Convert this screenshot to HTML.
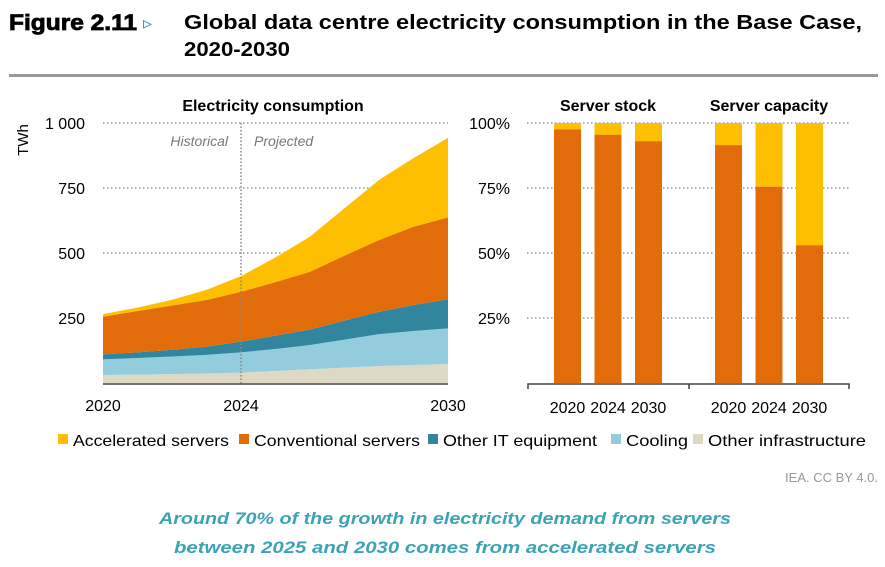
<!DOCTYPE html>
<html><head><meta charset="utf-8"><style>
body{margin:0;background:#fff;width:885px;height:562px;overflow:hidden;font-family:"Liberation Sans",sans-serif}
</style></head><body>
<svg width="885" height="562" viewBox="0 0 885 562" xmlns="http://www.w3.org/2000/svg">
<text x="9" y="30" font-size="22" font-weight="bold" fill="#000" textLength="128" lengthAdjust="spacingAndGlyphs" font-family="Liberation Sans" stroke="#000" stroke-width="0.8">Figure 2.11</text>
<text x="143" y="29" font-size="18" fill="#2a9ab0">▹</text>
<text x="184" y="29" font-size="20" font-weight="bold" fill="#000" textLength="678" lengthAdjust="spacingAndGlyphs">Global data centre electricity consumption in the Base Case,</text>
<text x="184" y="56" font-size="20" font-weight="bold" fill="#000" textLength="106" lengthAdjust="spacingAndGlyphs">2020-2030</text>
<rect x="9" y="74" width="869" height="3" fill="#999"/>
<g id="area"></g>
<g id="bars"></g>
<g id="legend"></g>
<text x="878" y="482" font-size="13" fill="#999" text-anchor="end">IEA. CC BY 4.0.</text>
<text x="445" y="524" font-size="17" font-weight="bold" font-style="italic" fill="#3aa3b6" text-anchor="middle" textLength="572" lengthAdjust="spacingAndGlyphs">Around 70% of the growth in electricity demand from servers</text>
<text x="445" y="553" font-size="17" font-weight="bold" font-style="italic" fill="#3aa3b6" text-anchor="middle" textLength="542" lengthAdjust="spacingAndGlyphs">between 2025 and 2030 comes from accelerated servers</text>
</svg>
<script>
const years=[2020,2021,2022,2023,2024,2025,2026,2027,2028,2029,2030];
const infra=[31,32,34,37,40,46,53,59,65,69,73];
const cooling=[60,64,68,71,78,85,93,108,123,131,137];
const otherIT=[19,22,26,32,41,51,60,73,86,100,112];
const conventional=[145,159,170,179,192,206,222,250,276,301,315];
const accelerated=[10,13,22,39,60,95,135,182,231,264,306];
const yTicks=[250,500,750,1000];
const yTickLabels=["250","500","750","1 000"];
const xTickYears=[2020,2024,2030];
const barGroups=["Server stock","Server capacity"];
const barYears=["2020","2024","2030"];
const stockConv=[97.5,95.5,93];
const capConv=[91.5,75.5,53];
const pctTicks=[25,50,75,100];

const NS="http://www.w3.org/2000/svg";
function mk(p,t,a,txt){const e=document.createElementNS(NS,t);for(const k in a)e.setAttribute(k,a[k]);if(txt!=null)e.textContent=txt;p.appendChild(e);return e;}
const C={acc:"#fdbf00",conv:"#e36c0a",it:"#31859c",cool:"#93cddd",infra:"#ddd9c4"};

const A=document.getElementById('area');
const ax=y=>103+(y-2020)*(448-103)/10;
const ay=v=>383-v*0.26;
let t=mk(A,'text',{x:273,y:111,'font-size':16,'font-weight':'bold','text-anchor':'middle'},'Electricity consumption');

t=mk(A,'text',{x:0,y:0,'font-size':15,transform:'translate(28,140) rotate(-90)','text-anchor':'middle'},'TWh');

yTicks.forEach((v,i)=>{
 const g=mk(A,'line',{x1:103,x2:448,y1:ay(v),y2:ay(v),stroke:'#999','stroke-width':1.5,'stroke-dasharray':'1.5 2.5'});
 
 const l=mk(A,'text',{x:85,y:ay(v)+6,'font-size':16,'text-anchor':'end'},yTickLabels[i]);
 
});
const series=[[infra,C.infra,'area-other-infrastructure'],[cooling,C.cool,'area-cooling'],[otherIT,C.it,'area-other-it'],[conventional,C.conv,'area-conventional-servers'],[accelerated,C.acc,'area-accelerated-servers']];
let base=years.map(()=>0);
series.forEach(([arr,col,name])=>{
 const top=base.map((b,i)=>b+arr[i]);
 let d=years.map((y,i)=>(i?'L':'M')+ax(y)+','+ay(top[i])).join(' ');
 for(let i=years.length-1;i>=0;i--)d+=' L'+ax(years[i])+','+ay(base[i]);
 const p=mk(A,'path',{d:d+' Z',fill:col});
 
 base=top;
});
let l=mk(A,'line',{x1:103,x2:448,y1:384,y2:384,stroke:'#444','stroke-width':1.5});

l=mk(A,'line',{x1:ax(2024),x2:ax(2024),y1:123,y2:384,stroke:'#888','stroke-width':1.5,'stroke-dasharray':'1.5 2'});

t=mk(A,'text',{x:228,y:146,'font-size':14,'font-style':'italic',fill:'#777','text-anchor':'end'},'Historical');

t=mk(A,'text',{x:254,y:146,'font-size':14,'font-style':'italic',fill:'#777'},'Projected');

xTickYears.forEach(y=>{
 const e=mk(A,'text',{x:ax(y),y:411,'font-size':16,'text-anchor':'middle'},String(y));
 
});

const B=document.getElementById('bars');
const by=p=>383-p*2.6;
pctTicks.forEach(p=>{
 const g=mk(B,'line',{x1:527,x2:849,y1:by(p),y2:by(p),stroke:'#999','stroke-width':1.5,'stroke-dasharray':'1.5 2.5'});
 
 const e=mk(B,'text',{x:510,y:by(p)+6,'font-size':16,'text-anchor':'end'},p+'%');
 
});
const groupData=[stockConv,capConv];
groupData.forEach((arr,gi)=>{
 const gx=528+gi*161;
 const title=mk(B,'text',{x:gx+80,y:111,'font-size':16,'font-weight':'bold','text-anchor':'middle'},barGroups[gi]);
 
 arr.forEach((v,i)=>{
  const x=gx+26+i*40.5;
  const r1=mk(B,'rect',{x:x,y:by(100),width:27,height:by(v)-by(100),fill:C.acc});
  
  const r2=mk(B,'rect',{x:x,y:by(v),width:27,height:by(0)-by(v),fill:C.conv});
  
  const e=mk(B,'text',{x:x+13.5,y:413,'font-size':16,'text-anchor':'middle'},barYears[i]);
  
 });
});
l=mk(B,'path',{d:'M528,389 V384 H849 V389 M689,384 V389',fill:'none',stroke:'#444','stroke-width':1.5});


const L=document.getElementById('legend');
const legNames=['Accelerated servers','Conventional servers','Other IT equipment','Cooling','Other infrastructure'];
const legCols=[C.acc,C.conv,C.it,C.cool,C.infra];
const legX=[58,239,428,611,693];
const legW=[156,166,154,62,158];
legNames.forEach((n,i)=>{
 const s=mk(L,'rect',{x:legX[i],y:434,width:10,height:10,fill:legCols[i]});
 
 const e=mk(L,'text',{x:legX[i]+15,y:446,'font-size':16,textLength:legW[i],lengthAdjust:'spacingAndGlyphs'},n);
 
});
</script>
</body></html>
